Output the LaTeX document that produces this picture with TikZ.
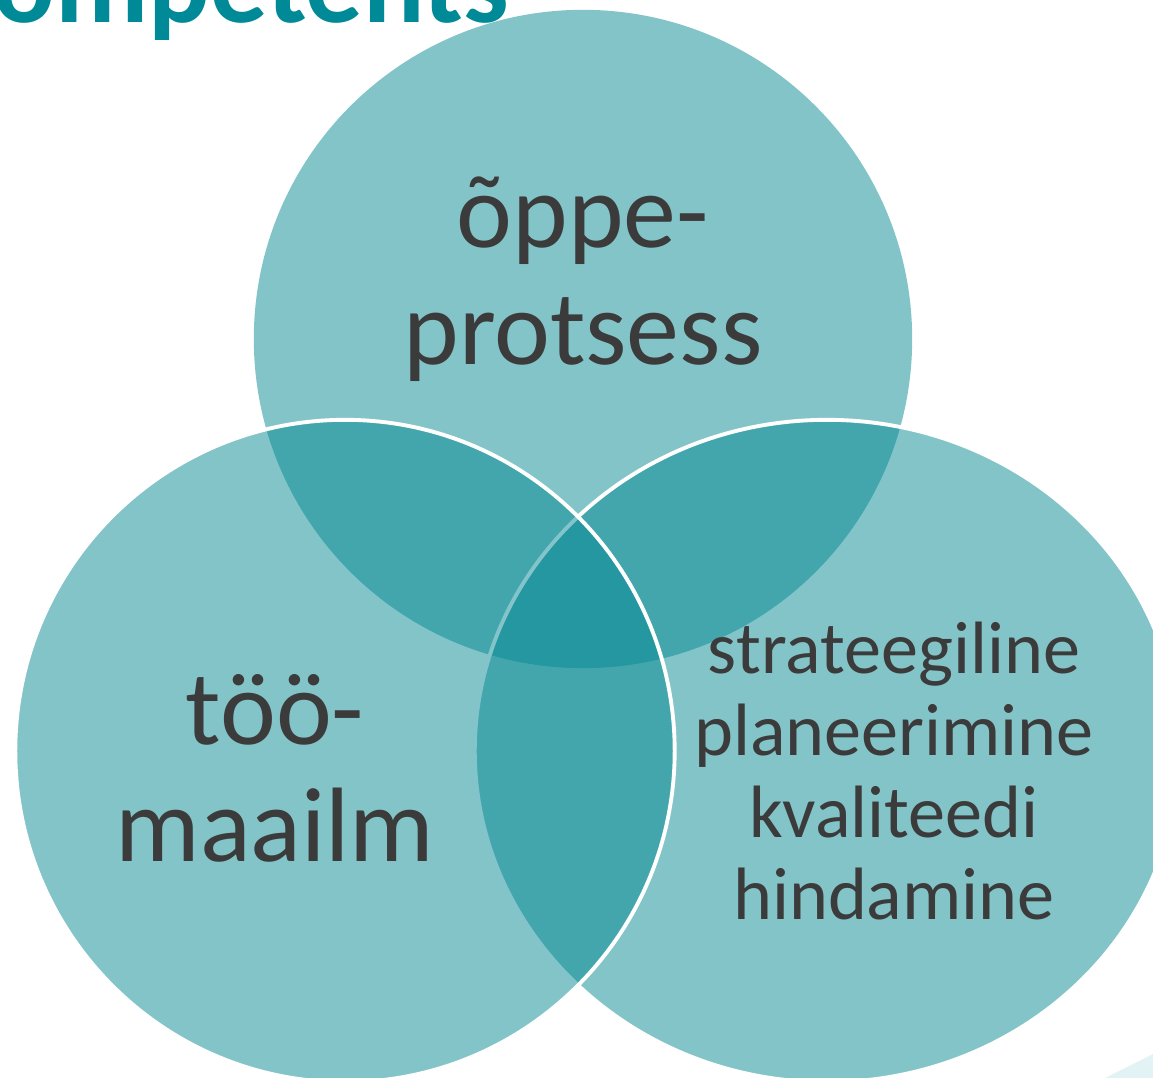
\documentclass[tikz,border=0pt]{standalone}
\usepackage{fontspec}
\setmainfont{Carlito}
\usetikzlibrary{shapes.geometric}

\definecolor{vennteal}{RGB}{2,135,145}
\definecolor{titleteal}{RGB}{0,137,150}
\definecolor{textgray}{RGB}{59,59,59}
\definecolor{cornerteal}{RGB}{227,242,244}

\begin{document}
\begin{tikzpicture}[
    x=0.01cm, y=-0.01cm,
    venn/.style={ellipse, fill=vennteal, fill opacity=0.49, inner sep=0pt},
    ring/.style={venn, draw=white, line width=1.1pt},
    biglabel/.style={font=\fontsize{30.1}{33.3}\selectfont, text=textgray, align=center, inner sep=0pt},
    smalllabel/.style={font=\fontsize{21.1}{23.3}\selectfont, text=textgray, align=center, inner sep=0pt},
    titletext/.style={font=\bfseries\fontsize{32.6}{39}\selectfont, text=titleteal, inner sep=0pt}
]
\path[use as bounding box, clip] (0,0) rectangle (1153,1078);

% slide title, cut at the top edge
\node[titletext, anchor=base east] (title) at (510,22) {Kompetents};

% faint shape in the corner
\fill[cornerteal] (1105,1078) -- (1153,1054) -- (1153,1078) -- cycle;

% three sets
\node[venn, minimum width=6.58cm, minimum height=6.58cm] (oppe) at (583,339) {};
\node[ring, minimum width=7.04cm, minimum height=6.62cm] (plan) at (827,751) {};
\node[ring, minimum width=6.59cm, minimum height=6.62cm] (too)  at (345,751) {};

% labels
\node[biglabel]   (oppetext) at (583,279) {õppe-\\protsess};
\node[biglabel]   (tootext)  at (275,768) {töö-\\maailm};
\node[smalllabel] (plantext) at (894,771) {strateegiline\\planeerimine\\kvaliteedi\\hindamine};

\end{tikzpicture}
\end{document}
